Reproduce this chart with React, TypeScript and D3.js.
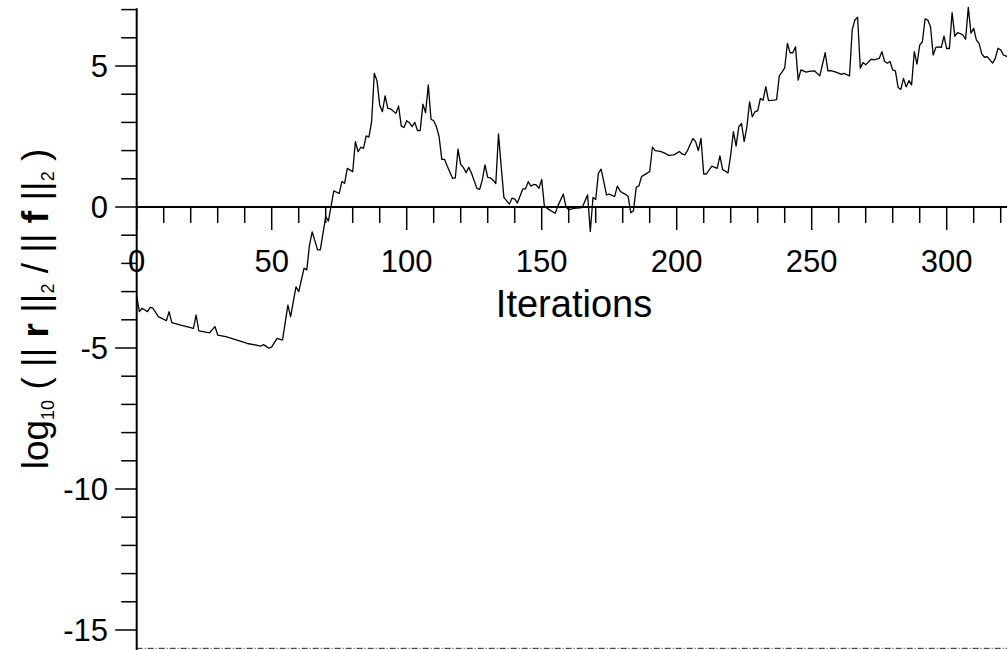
import React from "react";
import * as d3 from "d3";

// Iteration index of each recorded vertex
const iterations: number[] = [
  0, 1, 2, 3, 4, 5, 6, 8, 11, 12, 13, 16, 21, 22, 23, 27, 29, 30, 33, 41, 46, 47, 49, 50, 52, 54, 56, 57, 59, 60,
  62, 63, 64, 65, 67, 68, 70, 71, 73, 75, 76, 77, 78, 80, 81, 82, 83, 84, 85, 86, 87, 88, 89, 90, 91, 92, 93, 94,
  96, 97, 98, 99, 100, 101, 102, 103, 104, 105, 106, 107, 108, 109, 110, 111, 112, 113, 114, 115, 117, 118, 119,
  120, 121, 122, 123, 124, 126, 127, 128, 129, 130, 131, 132, 133, 134, 135, 136, 138, 139, 140, 141, 143, 144,
  145, 146, 147, 148, 149, 150, 151, 153, 155, 156, 158, 159, 160, 162, 165, 167, 168, 169, 170, 171, 172, 173,
  174, 175, 177, 178, 179, 180, 181, 182, 183, 184, 185, 186, 187, 188, 190, 191, 192, 194, 196, 197, 199, 201,
  202, 203, 204, 206, 207, 208, 209, 210, 211, 213, 215, 216, 217, 219, 220, 221, 222, 223, 224, 225, 226, 227,
  228, 229, 230, 231, 232, 233, 234, 236, 237, 238, 239, 240, 241, 242, 243, 244, 245, 246, 248, 249, 251, 253,
  255, 256, 257, 259, 261, 262, 264, 265, 266, 267, 268, 269, 270, 272, 273, 275, 276, 277, 278, 279, 280, 281,
  282, 283, 284, 285, 286, 287, 288, 289, 290, 291, 292, 293, 294, 295, 296, 297, 298, 299, 300, 301, 302, 303,
  304, 305, 306, 307, 308, 309, 310, 311, 312, 313, 314, 315, 317, 318, 319, 320, 321, 322, 323,
];

// log10(||r||2 / ||f||2) at each recorded vertex
const residuals: number[] = [
  -3.18, -3.71, -3.59, -3.65, -3.71, -3.56, -3.59, -3.89, -4.03, -3.71, -4.1, -4.18, -4.3, -3.83, -4.39, -4.46,
  -4.24, -4.54, -4.6, -4.84, -4.93, -4.88, -5.01, -4.96, -4.66, -4.72, -3.48, -3.89, -2.83, -3.0,
  -2.17, -2.23, -1.35, -0.88, -1.52, -1.52, -0.34, -0.5, 0.57, 0.48, 0.9, 0.84, 1.37, 1.25, 2.32, 1.96, 2.12, 2.08,
  2.52, 2.48, 3.02, 4.74, 4.48, 3.62, 3.38, 3.94, 3.5, 3.48,
  3.32, 3.58, 2.87, 2.82, 3.06, 2.99, 2.85, 3.0, 2.71, 2.71, 3.65, 3.34, 4.33, 3.11, 3.06, 2.85, 2.49, 1.69, 1.69,
  1.45, 1.02, 1.03, 2.05,
  1.51, 1.4, 1.22, 1.41, 1.2, 0.66, 0.62, 0.96, 1.49, 1.05, 1.03, 0.95, 0.83, 2.59, 1.43, 0.34, 0.1, 0.31, 0.29,
  0.14, 0.64, 0.64,
  0.9, 0.74, 0.8, 0.78, 0.66, 0.98, 0.03, -0.11, -0.22, 0.04, 0.46, 0.0, -0.09, -0.05, -0.02, 0.43, -0.87, 0.34,
  0.27, 1.19, 1.34, 0.9,
  0.43, 0.46, 0.37, 0.74, 0.57, 0.5, 0.45, 0.38, -0.2, -0.13, 0.7, 0.75, 1.08, 1.14, 1.26, 2.12, 2.0, 1.97, 1.89,
  1.83, 1.85, 1.97,
  1.88, 1.85, 2.0, 2.43, 2.32, 2.0, 2.43, 1.17, 1.17, 1.45, 1.37, 1.81, 1.33, 1.21, 1.85, 2.67, 2.16, 2.85, 2.96,
  2.32, 2.85, 3.73,
  3.2, 3.38, 3.41, 3.85, 3.79, 4.27, 3.77, 3.79, 3.81, 4.65, 4.78, 4.93, 5.8, 5.47, 5.47, 5.68, 4.5, 4.86, 4.78,
  4.81, 4.83, 4.65,
  5.47, 4.83, 4.84, 4.78, 4.7, 4.74, 4.65, 6.28, 6.63, 6.73, 4.92, 5.12, 5.04, 5.24, 5.22, 5.27, 5.51, 5.16, 5.1,
  5.16, 4.86, 4.83,
  4.24, 4.17, 4.56, 4.26, 4.48, 4.33, 5.51, 5.07, 5.74, 5.86, 6.67, 6.63, 6.39, 5.39, 5.66, 5.68, 5.66, 6.06, 5.62,
  5.62, 6.89, 6.06,
  6.18, 6.15, 6.1, 5.95, 7.08, 6.16, 6.34, 5.92, 5.8, 5.43, 5.31, 5.33, 5.1, 5.27, 5.63, 5.57, 5.39, 5.35, 5.3,
];

const xTickLabels: number[] = [0, 50, 100, 150, 200, 250, 300];
const yTickLabels: number[] = [5, 0, -5, -10, -15];
const machineEps = -15.65;

const W = 1007;
const H = 650;
const FONT = "'Liberation Sans', Arial, Helvetica, sans-serif";

export default function App() {
  const x = d3.scaleLinear().domain([0, 300]).range([136.7, 946.7]);
  const y = d3.scaleLinear().domain([5, -15]).range([66, 630]);

  const pts: [number, number][] = iterations.map((it, i) => [it, residuals[i]]);
  const line = d3
    .line<[number, number]>()
    .x((d) => x(d[0]))
    .y((d) => y(d[1]));

  const xMinor = d3.range(0, 330, 10);
  const yMinor = d3.range(-15, 8, 1);
  const x0 = x(0);
  const y0 = y(0);

  return (
    <svg
      width={W}
      height={H}
      style={{ position: "absolute", left: 0, top: 0, background: "#fff" }}
      fontFamily={FONT}
    >
      {/* machine precision dash-dot line */}
      <line
        x1={x0}
        x2={W}
        y1={y(machineEps)}
        y2={y(machineEps)}
        stroke="#222"
        strokeWidth={1}
        strokeDasharray="6,2,1,2"
      />
      {/* y axis */}
      <line x1={x0} x2={x0} y1={y(7.05)} y2={H} stroke="#000" strokeWidth={2} />
      {yMinor.map((v) => {
        const major = v % 5 === 0;
        return (
          <line
            key={"yt" + v}
            x1={major ? x0 - 21.5 : x0 - 15.5}
            x2={x0}
            y1={y(v)}
            y2={y(v)}
            stroke="#000"
            strokeWidth={1.5}
          />
        );
      })}
      {yTickLabels.map((v) => (
        <text
          key={"yl" + v}
          x={108}
          y={y(v)}
          dy="0.36em"
          textAnchor="end"
          fontSize={31}
          fill="#000"
        >
          {v}
        </text>
      ))}
      {/* x axis */}
      <line x1={x0} x2={W} y1={y0} y2={y0} stroke="#000" strokeWidth={2} />
      {xMinor.map((v) => {
        const major = v % 50 === 0;
        return (
          <line
            key={"xt" + v}
            x1={x(v)}
            x2={x(v)}
            y1={y0}
            y2={major ? y0 + 23 : y0 + 16}
            stroke="#000"
            strokeWidth={1.5}
          />
        );
      })}
      {xTickLabels.map((v) => (
        <text key={"xl" + v} x={x(v)} y={271.5} textAnchor="middle" fontSize={31} fill="#000">
          {v}
        </text>
      ))}
      <text x={574} y={317} textAnchor="middle" fontSize={38} fill="#000">
        Iterations
      </text>
      <text
        transform="translate(48,309) rotate(-90)"
        textAnchor="middle"
        fontSize={37}
        fill="#000"
      >
        <tspan>log</tspan>
        <tspan fontSize={18} dy={6}>10</tspan>
        <tspan dy={-6}> ( || </tspan>
        <tspan fontWeight="bold">r</tspan>
        <tspan> ||</tspan>
        <tspan fontSize={18} dy={6}>2</tspan>
        <tspan dy={-6}> / || </tspan>
        <tspan fontWeight="bold">f</tspan>
        <tspan> ||</tspan>
        <tspan fontSize={18} dy={6}>2</tspan>
        <tspan dy={-6}> )</tspan>
      </text>
      {/* residual history */}
      <path d={line(pts) ?? ""} fill="none" stroke="#000" strokeWidth={1.3} strokeLinejoin="round" />
    </svg>
  );
}
